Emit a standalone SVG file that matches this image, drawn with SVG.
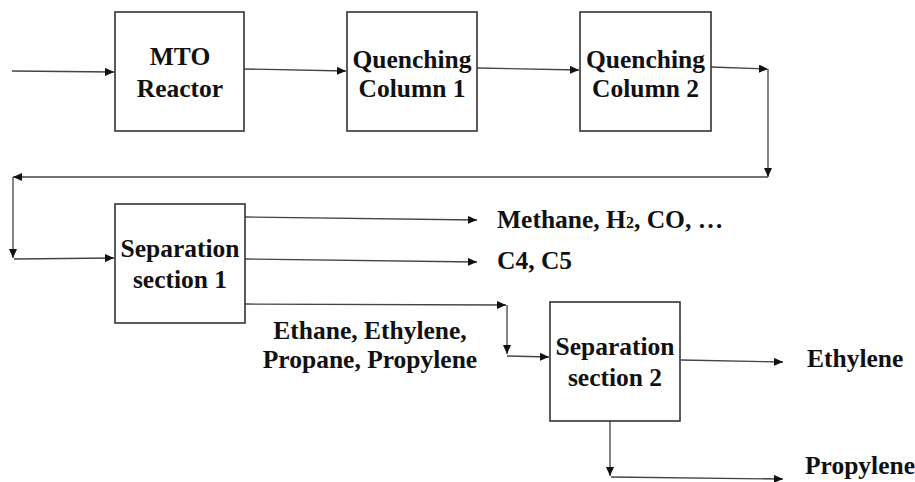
<svg xmlns="http://www.w3.org/2000/svg" width="915" height="482" viewBox="0 0 915 482">
<style>
.box{fill:#fff;stroke:#333;stroke-width:1.6}
.t{font-weight:bold;font-size:25.5px;fill:#111}
.m{text-anchor:middle}
.c{fill:none;stroke:#444;stroke-width:1.3}
</style>
<defs>
<marker id="ah" markerUnits="userSpaceOnUse" markerWidth="10" markerHeight="8" refX="9" refY="4" orient="auto">
<path d="M0,0 L9,4 L0,8 Z" fill="#111"/>
</marker>
</defs>
<rect width="915" height="482" fill="#fff"/>
<g id="connectors">
<path class="c" d="M12,71 L114,72" marker-end="url(#ah)"/>
<path class="c" d="M244,69 L346,71" marker-end="url(#ah)"/>
<path class="c" d="M477,68 L579,70" marker-end="url(#ah)"/>
<path class="c" d="M711,67 L768,69" marker-end="url(#ah)"/>
<path class="c" d="M768,69 L768,177" marker-end="url(#ah)"/>
<path class="c" d="M768,177 L13,177" marker-end="url(#ah)"/>
<path class="c" d="M13,177 L13,258" marker-end="url(#ah)"/>
<path class="c" d="M14,259 L114,258" marker-end="url(#ah)"/>
<path class="c" d="M245,217 L477,220" marker-end="url(#ah)"/>
<path class="c" d="M245,259 L477,262" marker-end="url(#ah)"/>
<path class="c" d="M245,304 L506,305" marker-end="url(#ah)"/>
<path class="c" d="M507,305 L507,354" marker-end="url(#ah)"/>
<path class="c" d="M507,356 L549,357" marker-end="url(#ah)"/>
<path class="c" d="M681,360 L783,362" marker-end="url(#ah)"/>
<path class="c" d="M610,418 L610,476" marker-end="url(#ah)"/>
<path class="c" d="M611,477 L783,479" marker-end="url(#ah)"/>
</g>
<g font-family="'Liberation Serif', 'Times New Roman', 'DejaVu Serif', serif">
<g id="mto">
<rect class="box" x="115" y="12" width="129" height="119"/>
<text class="t m" x="180" y="65">MTO</text>
<text class="t m" x="180" y="97">Reactor</text>
</g>
<g id="qc1">
<rect class="box" x="347" y="12" width="130" height="119"/>
<text class="t m" x="412" y="68">Quenching</text>
<text class="t m" x="412" y="97">Column 1</text>
</g>
<g id="qc2">
<rect class="box" x="580" y="12" width="131" height="119"/>
<text class="t m" x="645.5" y="68">Quenching</text>
<text class="t m" x="645.5" y="97">Column 2</text>
</g>
<g id="sep1">
<rect class="box" x="115" y="204" width="130" height="119"/>
<text class="t m" x="180" y="257">Separation</text>
<text class="t m" x="180" y="288">section 1</text>
</g>
<g id="sep2">
<rect class="box" x="550" y="302" width="130" height="119"/>
<text class="t m" x="615" y="355">Separation</text>
<text class="t m" x="615" y="386">section 2</text>
</g>
<g id="labels">
<text class="t" x="497" y="228">Methane, H<tspan font-size="16">2</tspan>, CO, …</text>
<text class="t" x="497" y="269">C4, C5</text>
<text class="t m" x="370" y="339">Ethane, Ethylene,</text>
<text class="t m" x="370" y="368">Propane, Propylene</text>
<text class="t" x="807" y="367">Ethylene</text>
<text class="t" x="805" y="474" font-size="24.5">Propylene</text>
</g>
</g>
</svg>
